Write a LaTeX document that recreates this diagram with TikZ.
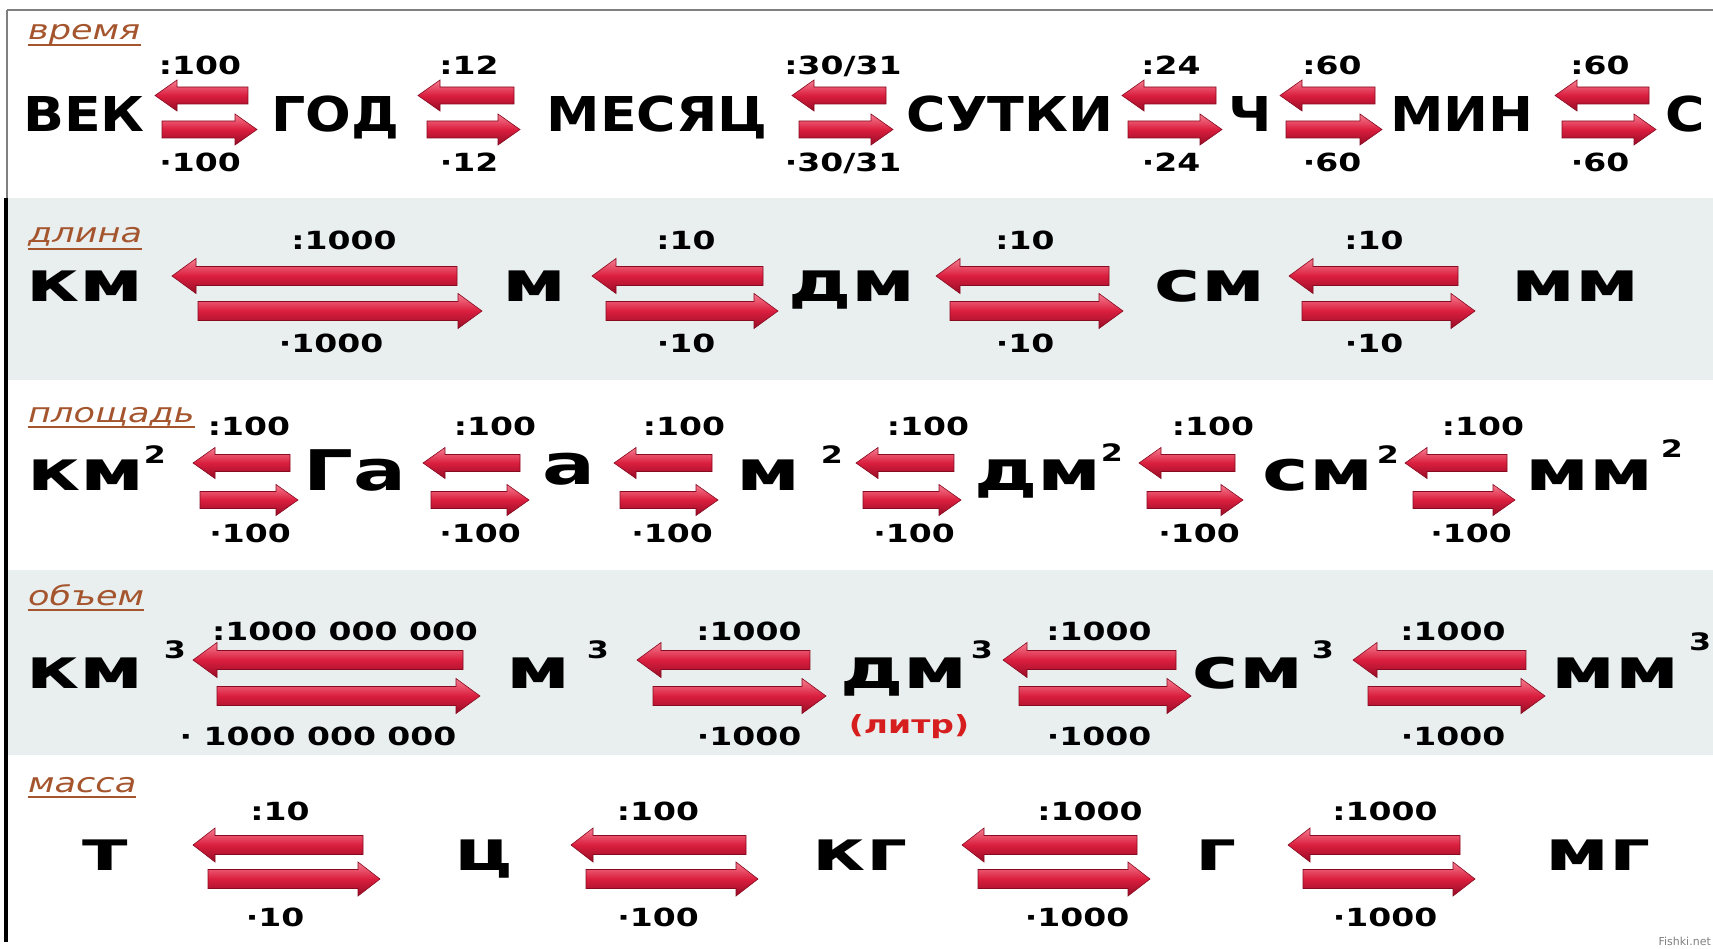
\documentclass[tikz,border=0pt]{standalone}
\usepackage{fontspec}
\setmainfont{DejaVu Sans}
\newfontfamily\Wfont{DejaVu Sans}[FakeStretch=1.12]
\newfontfamily\Sfont{DejaVu Sans}[FakeStretch=1.4]
\newfontfamily\Lfont{DejaVu Sans}[FakeStretch=1.32]
\newfontfamily\Cfont{DejaVu Sans}[FakeStretch=1.3]
\definecolor{bandgray}{RGB}{233,238,238}
\definecolor{catbrown}{RGB}{165,85,45}
\definecolor{arrtop}{RGB}{246,125,145}
\definecolor{arrmid}{RGB}{218,30,62}
\definecolor{arrbot}{RGB}{150,12,38}
\definecolor{arredge}{RGB}{135,10,32}
\definecolor{litr}{RGB}{215,30,30}
\newcommand\arrowpair[9]{%
  \path[arrowfill] (#1,#3) -- (#1+#9,#3-#8) -- (#1+#9,#3-#7) -- (#2,#3-#7) -- (#2,#3+#7) -- (#1+#9,#3+#7) -- (#1+#9,#3+#8) -- cycle;
  \path[arrowfill] (#5,#6) -- (#5-#9,#6-#8) -- (#5-#9,#6-#7) -- (#4,#6-#7) -- (#4,#6+#7) -- (#5-#9,#6+#7) -- (#5-#9,#6+#8) -- cycle;
}
\tikzset{
  arrowfill/.style={top color=arrtop, bottom color=arrbot, middle color=arrmid, draw=arredge, line width=0.6pt, line join=miter},
  bigword/.style={font=\Wfont\bfseries\fontsize{48}{52}\selectfont, anchor=base, inner sep=0pt},
  word/.style={font=\Sfont\bfseries\fontsize{56}{60}\selectfont, anchor=base, inner sep=0pt},
  lab/.style={font=\Lfont\bfseries\fontsize{25}{28}\selectfont, anchor=base, inner sep=0pt},
  supr/.style={font=\Lfont\bfseries\fontsize{24}{26}\selectfont, anchor=base, inner sep=0pt},
  cat/.style={font=\Cfont\itshape\fontsize{27}{30}\selectfont, text=catbrown, anchor=base west, inner sep=0pt},
  uline/.style={draw=catbrown, line width=1.6pt},
  band/.style={fill=bandgray},
}
\begin{document}
\begin{tikzpicture}[x=1pt,y=-1pt]
\useasboundingbox (0,0) rectangle (1713,949);
\fill[white] (0,0) rectangle (1713,949);
% bands
\path[band] (7,198) rectangle (1713,380);
\path[band] (7,570) rectangle (1713,755);
% frame
\draw[gray, line width=1.5pt] (7,10) -- (1713,10);
\draw[gray, line width=1.2pt] (7,10) -- (7,198);
\draw[black, line width=3.5pt] (6,198) -- (6,942);

% ---------- row 1: время ----------
\node[cat] (c1) at (28,40) {время};
\draw[uline] ([yshift=-5pt]c1.base west) -- ([yshift=-5pt]c1.base east);
\node[bigword] (vek) at (84,132) {ВЕК};
\node[bigword] (god) at (335,132) {ГОД};
\node[bigword] (mes) at (657,132) {МЕСЯЦ};
\node[bigword] (sut) at (1010,132) {СУТКИ};
\node[bigword] (chas) at (1250,132) {Ч};
\node[bigword] (minu) at (1462,132) {МИН};
\node[bigword] (sek) at (1685,132) {С};
\arrowpair{155}{248}{95.5}{162}{257}{129.5}{8.5}{15.5}{22}
\arrowpair{418}{514}{95.5}{427}{520}{129.5}{8.5}{15.5}{22}
\arrowpair{792}{886}{95.5}{799}{893}{129.5}{8.5}{15.5}{22}
\arrowpair{1122}{1216}{95.5}{1128}{1222}{129.5}{8.5}{15.5}{22}
\arrowpair{1280}{1375}{95.5}{1286}{1382}{129.5}{8.5}{15.5}{22}
\arrowpair{1555}{1649}{95.5}{1562}{1656}{129.5}{8.5}{15.5}{22}
\node[lab] (t1a) at (200,75) {:100};
\node[lab] (t1b) at (469,75) {:12};
\node[lab] (t1c) at (843,75) {:30/31};
\node[lab] (t1d) at (1171,75) {:24};
\node[lab] (t1e) at (1332,75) {:60};
\node[lab] (t1f) at (1600,75) {:60};
\node[lab] (b1a) at (200,172) {·100};
\node[lab] (b1b) at (469,172) {·12};
\node[lab] (b1c) at (843,172) {·30/31};
\node[lab] (b1d) at (1171,172) {·24};
\node[lab] (b1e) at (1332,172) {·60};
\node[lab] (b1f) at (1600,172) {·60};

% ---------- row 2: длина ----------
\node[cat] (c2) at (28,243) {длина};
\draw[uline] ([yshift=-6pt]c2.base west) -- ([yshift=-6pt]c2.base east);
\node[word] (km1) at (85,302) {км};
\node[word] (m1) at (535,302) {м};
\node[word] (dm1) at (852,302) {дм};
\node[word] (sm1) at (1210,302) {см};
\node[word] (mm1) at (1576,302) {мм};
\arrowpair{172}{457}{276}{198}{482}{311}{9.5}{17.5}{24}
\arrowpair{592}{763}{276}{606}{778}{311}{9.5}{17.5}{24}
\arrowpair{936}{1109}{276}{950}{1123}{311}{9.5}{17.5}{24}
\arrowpair{1289}{1458}{276}{1302}{1475}{311}{9.5}{17.5}{24}
\node[lab] (t2a) at (344,250) {:1000};
\node[lab] (t2b) at (686,250) {:10};
\node[lab] (t2c) at (1025,250) {:10};
\node[lab] (t2d) at (1374,250) {:10};
\node[lab] (b2a) at (331,353) {·1000};
\node[lab] (b2b) at (686,353) {·10};
\node[lab] (b2c) at (1025,353) {·10};
\node[lab] (b2d) at (1374,353) {·10};

% ---------- row 3: площадь ----------
\node[cat] (c3) at (28,422) {площадь};
\draw[uline] ([yshift=-5pt]c3.base west) -- ([yshift=-5pt]c3.base east);
\node[word] (km2) at (86,490) {км};
\node[word] (ga) at (355,490) {Га};
\node[word] (ar) at (569,484) {а};
\node[word] (m2) at (769,490) {м};
\node[word] (dm2) at (1038,490) {дм};
\node[word] (sm2) at (1318,490) {см};
\node[word] (mm2) at (1590,490) {мм};
\node[supr] (s2a) at (155,463) {2};
\node[supr] (s2b) at (832,463) {2};
\node[supr] (s2c) at (1112,461) {2};
\node[supr] (s2d) at (1388,463) {2};
\node[supr] (s2e) at (1672,457) {2};
\arrowpair{193}{290}{463}{200}{298}{500}{8.5}{15.5}{22}
\arrowpair{423}{520}{463}{431}{529}{500}{8.5}{15.5}{22}
\arrowpair{614}{712}{463}{620}{718}{500}{8.5}{15.5}{22}
\arrowpair{856}{954}{463}{863}{961}{500}{8.5}{15.5}{22}
\arrowpair{1139}{1235}{463}{1147}{1243}{500}{8.5}{15.5}{22}
\arrowpair{1405}{1507}{463}{1413}{1515}{500}{8.5}{15.5}{22}
\node[lab] (t3a) at (249,435) {:100};
\node[lab] (t3b) at (495,435) {:100};
\node[lab] (t3c) at (684,435) {:100};
\node[lab] (t3d) at (928,435) {:100};
\node[lab] (t3e) at (1213,435) {:100};
\node[lab] (t3f) at (1483,435) {:100};
\node[lab] (b3a) at (250,542) {·100};
\node[lab] (b3b) at (480,542) {·100};
\node[lab] (b3c) at (672,542) {·100};
\node[lab] (b3d) at (914,542) {·100};
\node[lab] (b3e) at (1199,542) {·100};
\node[lab] (b3f) at (1471,542) {·100};

% ---------- row 4: объем ----------
\node[cat] (c4) at (28,605) {объем};
\draw[uline] ([yshift=-5pt]c4.base west) -- ([yshift=-5pt]c4.base east);
\node[word] (km3) at (85,688) {км};
\node[word] (m3) at (539,688) {м};
\node[word] (dm3) at (904,688) {дм};
\node[word] (sm3) at (1248,688) {см};
\node[word] (mm3) at (1616,688) {мм};
\node[supr] (s3a) at (175,658) {3};
\node[supr] (s3b) at (598,658) {3};
\node[supr] (s3c) at (982,658) {3};
\node[supr] (s3d) at (1323,658) {3};
\node[supr] (s3e) at (1700,650) {3};
\node[lab, text=litr] (litr) at (909,733) {(литр)};
\arrowpair{193}{463}{660}{217}{480}{696}{9.5}{17.5}{24}
\arrowpair{637}{810}{660}{653}{826}{696}{9.5}{17.5}{24}
\arrowpair{1003}{1176}{660}{1019}{1191}{696}{9.5}{17.5}{24}
\arrowpair{1353}{1526}{660}{1368}{1545}{696}{9.5}{17.5}{24}
\node[lab] (t4a) at (345,640) {:1000 000 000};
\node[lab] (t4b) at (749,640) {:1000};
\node[lab] (t4c) at (1099,640) {:1000};
\node[lab] (t4d) at (1453,640) {:1000};
\node[lab] (b4a) at (318,745) {· 1000 000 000};
\node[lab] (b4b) at (749,745) {·1000};
\node[lab] (b4c) at (1099,745) {·1000};
\node[lab] (b4d) at (1453,745) {·1000};

% ---------- row 5: масса ----------
\node[cat] (c5) at (28,792) {масса};
\draw[uline] ([yshift=-5pt]c5.base west) -- ([yshift=-5pt]c5.base east);
\node[word] (tn) at (105,870) {т};
\node[word] (cn) at (484,870) {ц};
\node[word] (kg) at (860,870) {кг};
\node[word] (gr) at (1216,870) {г};
\node[word] (mg) at (1598,870) {мг};
\arrowpair{193}{363}{845}{208}{380}{879}{9.5}{17}{22}
\arrowpair{571}{746}{845}{586}{758}{879}{9.5}{17}{22}
\arrowpair{962}{1137}{845}{978}{1150}{879}{9.5}{17}{22}
\arrowpair{1288}{1460}{845}{1303}{1475}{879}{9.5}{17}{22}
\node[lab] (t5a) at (280,820) {:10};
\node[lab] (t5b) at (658,820) {:100};
\node[lab] (t5c) at (1090,820) {:1000};
\node[lab] (t5d) at (1385,820) {:1000};
\node[lab] (b5a) at (275,926) {·10};
\node[lab] (b5b) at (658,926) {·100};
\node[lab] (b5c) at (1077,926) {·1000};
\node[lab] (b5d) at (1385,926) {·1000};

% watermark
\node[font=\fontsize{11}{12}\selectfont, text=gray, anchor=base east, inner sep=0pt] (wm) at (1711,945) {Fishki.net};
\end{tikzpicture}
\end{document}
